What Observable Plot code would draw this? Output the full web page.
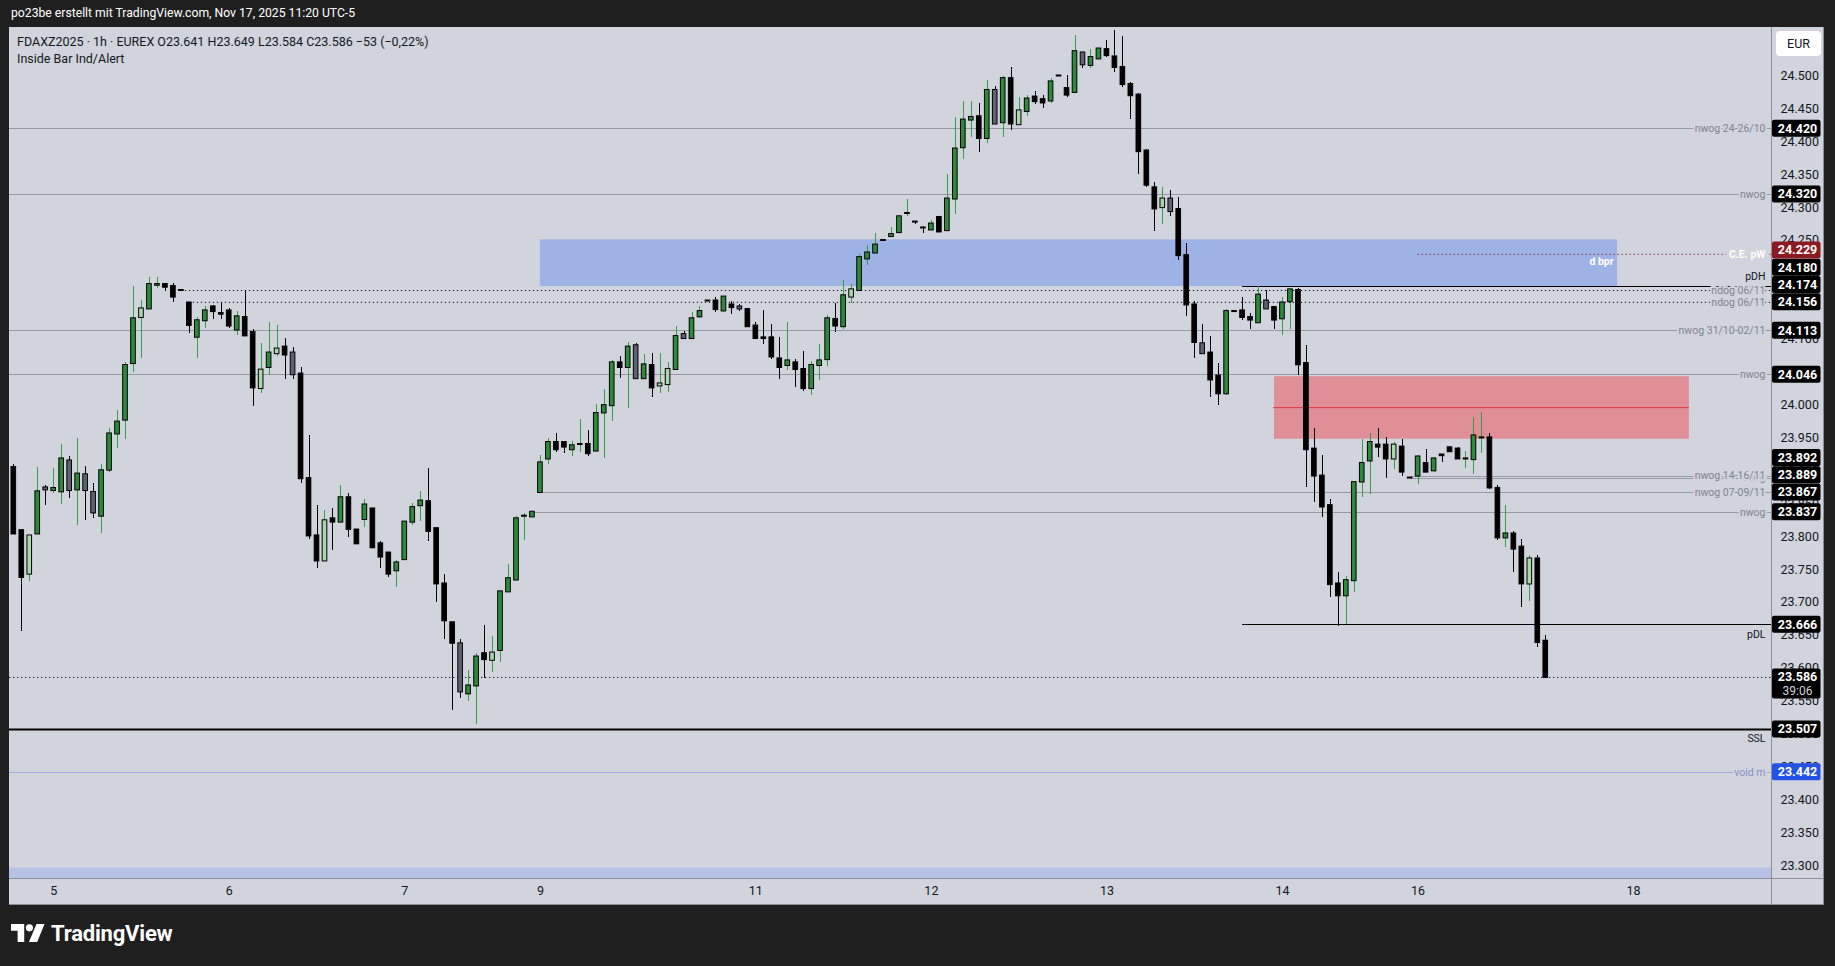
<!DOCTYPE html>
<html><head><meta charset="utf-8">
<script src="https://cdn.jsdelivr.net/npm/d3@7"></script>
<script src="https://cdn.jsdelivr.net/npm/@observablehq/plot@0.6"></script>
<style>
html,body{margin:0;padding:0;background:#1f1f1f;}
body{width:1835px;height:966px;position:relative;overflow:hidden;font-family:Roboto,"Liberation Sans",sans-serif;}
#hdr{position:absolute;left:11px;top:6px;color:#ffffff;font-size:12.2px;white-space:pre;}
#pane{position:absolute;left:9px;top:27px;width:1815px;height:878px;background:#d1d4dc;}
#legend{position:absolute;left:17px;top:33px;color:#131722;font-size:12.5px;line-height:17px;white-space:pre;z-index:3;}
#eur{position:absolute;left:1776px;top:31px;width:45px;height:25px;background:#ffffff;border-radius:4px;color:#131722;font-size:12.5px;line-height:25px;text-align:center;z-index:3;}
#foot{position:absolute;left:11px;top:921px;color:#ffffff;font-size:22px;font-weight:bold;display:flex;align-items:center;gap:6px;letter-spacing:-0.2px;}
</style></head><body>
<div id="hdr">po23be erstellt mit TradingView.com, Nov 17, 2025 11:20 UTC-5</div>
<div id="pane"></div>
<div id="legend">FDAXZ2025 · 1h · EUREX O23.641 H23.649 L23.584 C23.586 −53 (−0,22%)
Inside Bar Ind/Alert</div>
<div id="eur">EUR</div>
<div id="foot"><svg width="34" height="25" viewBox="0 0 36 26"><path d="M14 22H7V10H0V3h14z" fill="#fff"/><circle cx="19.5" cy="7" r="3.8" fill="#fff"/><path d="M27 3h8.5l-7.8 19H19z" fill="#fff"/></svg><span>TradingView</span></div>
<script>
// ---- candle data (hourly bars, index 0 = first visible bar) ----
const open = [
23905,23809,23743,23804,23874,23870,23868,23915,23871,23894,
23867,23831,23901,23956,23977,24063,24133,24146,24182,24183,
24180,24174,24155,24103,24128,24149,24139,24143,24114,24133,
24110,24025,24057,24078,24088,24079,24047,23888,23801,23763,
23827,23822,23859,23810,23826,23842,23789,23775,23748,23765,
23822,23847,23853,23812,23728,23669,23637,23561,23573,23622,
23612,23627,23716,23734,23831,23830,23867,23918,23943,23943,
23932,23940,23940,23930,23988,23999,24064,24057,24090,24040,
24060,24029,24031,24054,24107,24101,24134,24158,24158,24143,
24152,24149,24145,24120,24102,24102,24070,24060,24064,24054,
24025,24060,24069,24130,24119,24164,24174,24222,24231,24250,
24256,24262,24291,24278,24269,24266,24285,24265,24313,24391,
24433,24438,24405,24478,24429,24496,24426,24446,24468,24464,
24462,24500,24481,24475,24535,24516,24526,24540,24529,24513,
24487,24471,24386,24330,24300,24313,24297,24227,24152,24093,
24079,24044,24017,24142,24143,24133,24125,24158,24148,24131,
24157,24174,24063,23933,23892,23847,23728,23710,23733,23883,
23915,23939,23939,23918,23936,23889,23892,23911,23900,23924,
23935,23933,23918,23917,23950,23950,23873,23798,23804,23784,
23728,23766,23641];
const high = [
23910,23809,23801,23905,23877,23904,23940,23921,23949,23906,
23881,23910,23965,23992,24064,24180,24159,24194,24194,24185,
24184,24174,24155,24133,24150,24151,24154,24146,24142,24174,
24114,24094,24125,24121,24101,24088,24057,23953,23847,23839,
23843,23878,23865,23810,23856,23842,23792,23775,23764,23822,
23850,23869,23903,23812,23742,23669,23644,23597,23623,23665,
23648,23716,23758,23831,23835,23837,23924,23949,23956,23943,
23945,23978,23962,24000,24023,24068,24073,24095,24093,24076,
24079,24078,24064,24120,24111,24140,24149,24158,24164,24164,
24157,24152,24146,24126,24143,24123,24102,24125,24069,24081,
24066,24092,24136,24155,24189,24183,24228,24243,24260,24250,
24269,24286,24313,24278,24272,24281,24287,24351,24437,24461,
24461,24458,24493,24484,24499,24513,24468,24470,24476,24471,
24496,24500,24500,24561,24535,24540,24541,24554,24569,24560,
24490,24473,24388,24338,24330,24326,24316,24245,24158,24122,
24104,24063,24145,24142,24163,24139,24180,24174,24149,24164,
24175,24177,24091,23965,23924,23857,23745,23739,23882,23947,
23956,23964,23950,23943,23947,23889,23924,23933,23920,23924,
23936,23936,23929,23981,23988,23956,23877,23847,23807,23795,
23771,23772,23649];
const low = [
23804,23656,23732,23804,23848,23866,23849,23858,23817,23825,
23827,23804,23898,23934,23948,24050,24071,24146,24177,24172,
24156,24174,24108,24071,24117,24130,24130,24117,24106,24105,
23998,24018,24045,24074,24038,24039,23881,23796,23752,23763,
23779,23822,23799,23789,23814,23783,23751,23738,23722,23765,
23817,23823,23793,23700,23643,23536,23554,23549,23515,23584,
23594,23609,23716,23734,23794,23830,23867,23909,23928,23927,
23922,23928,23921,23930,23919,23975,24041,23995,24040,24040,
24011,24017,24019,24054,24099,24099,24131,24158,24140,24140,
24137,24142,24119,24101,24092,24069,24038,24052,24026,24020,
24014,24037,24058,24110,24114,24155,24174,24212,24231,24250,
24254,24262,24286,24275,24260,24266,24263,24265,24289,24373,
24406,24384,24398,24427,24407,24417,24426,24439,24456,24450,
24458,24500,24467,24475,24511,24511,24526,24528,24505,24482,
24434,24351,24331,24263,24274,24286,24219,24134,24070,24078,
24011,23999,24014,24142,24128,24114,24125,24146,24114,24105,
24115,24045,23874,23852,23829,23707,23664,23666,23715,23860,
23864,23920,23888,23902,23892,23889,23879,23898,23897,23912,
23929,23918,23903,23894,23926,23871,23794,23783,23745,23692,
23701,23631,23584];
const close = [
23804,23738,23801,23868,23871,23873,23918,23870,23895,23870,
23836,23900,23956,23974,24060,24131,24146,24183,24183,24179,
24164,24174,24121,24128,24143,24142,24138,24120,24134,24105,
24026,24053,24079,24085,24076,24046,23888,23801,23763,23824,
23822,23859,23811,23789,23848,23783,23769,23743,23760,23822,
23844,23854,23808,23728,23672,23638,23564,23573,23617,23613,
23623,23716,23736,23827,23831,23837,23912,23943,23932,23936,
23938,23940,23926,23987,23999,24064,24057,24088,24040,24061,
24026,24032,24054,24104,24101,24131,24142,24158,24145,24164,
24148,24146,24119,24101,24101,24073,24057,24067,24054,24025,
24060,24067,24131,24120,24166,24175,24224,24231,24243,24250,
24259,24286,24291,24278,24269,24275,24263,24313,24389,24433,
24437,24405,24478,24427,24496,24427,24447,24465,24461,24459,
24491,24500,24471,24537,24517,24528,24541,24531,24513,24487,
24470,24385,24334,24298,24313,24294,24227,24152,24095,24078,
24038,24017,24142,24142,24133,24129,24167,24146,24129,24155,
24175,24061,23932,23892,23845,23727,23710,23733,23882,23911,
23943,23936,23918,23939,23898,23889,23921,23898,23918,23923,
23929,23918,23918,23953,23950,23874,23798,23804,23781,23728,
23766,23639,23586];
// g = up, b = down, lg = inside bar up, gr = inside bar down
const kind = [
"b","b","lg","g","gr","g","g","gr","g","gr",
"gr","g","g","g","g","g","lg","g","g","b",
"b","b","b","g","g","b","b","b","g","b",
"b","lg","g","lg","b","gr","b","b","b","lg",
"b","g","b","b","g","b","b","b","g","g",
"g","g","b","b","b","b","gr","g","g","b",
"lg","g","g","g","g","g","g","g","b","b",
"g","g","b","g","g","g","b","g","gr","g",
"b","lg","lg","g","gr","g","g","b","b","g",
"b","gr","b","b","b","b","b","g","b","b",
"g","g","g","b","g","lg","g","g","g","b",
"g","g","g","b","b","g","b","g","g","g",
"g","b","g","gr","g","b","lg","g","b","b",
"g","b","b","g","gr","g","g","b","b","b",
"b","b","b","b","lg","gr","b","b","b","gr",
"b","b","g","b","b","b","g","gr","b","g",
"g","b","b","b","b","b","b","g","g","g",
"g","b","b","lg","b","b","g","b","g","b",
"b","b","g","g","g","b","b","g","b","b",
"lg","b","b"];

// ---- time axis: bar index of each day label ----
const dayTickBar = [5, 27, 49, 66, 93, 115, 137, 159, 176, 203];
const dayTickLabel = ["5", "6", "7", "9", "11", "12", "13", "14", "16", "18"];
// ---- price axis ticks ----
const priceTicks = [23300,23350,23400,23450,23500,23550,23600,23650,23700,23750,23800,23850,23900,23950,
  24000,24050,24100,24150,24200,24250,24300,24350,24400,24450,24500];

// ---- grey level lines (value, label, first bar; null = from left edge) ----
const levelValue = [24420, 24320, 24113, 24046, 23889, 23892, 23867, 23837];
const levelLabel = ["nwog 24-26/10", "nwog", "nwog 31/10-02/11", "nwog", "nwog", "nwog 14-16/11", "nwog 07-09/11", "nwog"];
const levelStart = [null, null, null, null, 175, 175, 66, 65];
// ---- ndog dotted lines ----
const ndogValue = [24174, 24156];
const ndogStart = [21, 22];
const ndogLabel = ["ndog 06/11", "ndog 06/11"];
// ---- previous day high / low ----
const pdhValue = 24180, pdlValue = 23666, pdStart = 154;
// ---- C.E. pW ----
const cePwValue = 24229, cePwStart = 176;
// ---- SSL, void m, current price ----
const sslValue = 23507;
const voidValue = 23442;
const lastPrice = 23586;
const countdown = "39:06";
// ---- zones ----
const bprBars = [66, 201], bprRange = [24180, 24251];
const fvgBars = [158, 210], fvgRange = [23948, 24043], fvgMid = 23996;
const voidBandTop = 23296;
// ---- price tags on the axis ----
const tagValue = [24420, 24320, 24229, 24180, 24174, 24156, 24113, 24046, 23892, 23889, 23867, 23837, 23666, 23586, 23507, 23442];
const tagBg = ["#000","#000","#8b1b22","#000","#000","#000","#000","#000","#000","#000","#000","#000","#000","#000","#000","#2453e6"];

// ---- build ----
const paneBg = "#d1d4dc";
const xDomain = [-0.539, 220.29];
const yDomain = [23280.4, 24573.7];
const xMin = xDomain[0], xMax = xDomain[1];
const fmt = v => (v / 1000).toFixed(3);

const candles = open.map((o, i) => ({k: i, o, h: high[i], l: low[i], c: close[i], kind: kind[i]}));
const bodyFill = {g: "#2e8a3b", lg: "#a7d8a9", gr: "#5e6170", b: "#000000"};
const wickCol = {g: "#35a043", lg: "#35a043", gr: "#000000", b: "#000000"};

const levels = levelValue.map((v, i) => ({v, label: levelLabel[i], s: levelStart[i] == null ? xMin : levelStart[i], e: xMax}));
const ndogs = ndogValue.map((v, i) => ({v, label: ndogLabel[i], s: ndogStart[i], e: xMax}));
const blackSolid = [{v: pdhValue, s: pdStart, e: xMax}, {v: pdlValue, s: pdStart, e: xMax}];
const labelStyle = {frameAnchor: "right", textAnchor: "end", dx: -6, fontSize: 10.5};

const plot = Plot.plot({
  width: 1815, height: 878,
  marginLeft: 0, marginRight: 53, marginTop: 0, marginBottom: 27,
  style: {background: "transparent", fontFamily: "Roboto, sans-serif", fontSize: "12.5px", color: "#131722", overflow: "visible"},
  color: {type: "identity"},
  x: {domain: xDomain, ticks: dayTickBar, tickFormat: d => dayTickLabel[dayTickBar.indexOf(d)], tickSize: 0, tickPadding: 8, label: null},
  y: {domain: yDomain, axis: "right", ticks: priceTicks, tickFormat: fmt, tickSize: 0, tickPadding: 9, label: null},
  marks: [
    // bottom void band
    Plot.rect([{x1: xMin, x2: xMax, y1: yDomain[0], y2: voidBandTop}], {x1: "x1", x2: "x2", y1: "y1", y2: "y2", fill: "#b5c1e5"}),
    // zones
    Plot.rect([{x1: bprBars[0], x2: bprBars[1], y1: bprRange[0], y2: bprRange[1]}], {x1: "x1", x2: "x2", y1: "y1", y2: "y2", fill: "#9fb2e6"}),
    Plot.rect([{x1: fvgBars[0], x2: fvgBars[1], y1: fvgRange[0], y2: fvgRange[1]}], {x1: "x1", x2: "x2", y1: "y1", y2: "y2", fill: "#e08f99"}),
    Plot.ruleY([{v: fvgMid, s: fvgBars[0] - 0.1, e: fvgBars[1]}], {y: "v", x1: "s", x2: "e", stroke: "#e03442", strokeWidth: 1}),
    // grey levels
    Plot.ruleY(levels, {y: "v", x1: "s", x2: "e", stroke: "#979aa3", strokeWidth: 1, shapeRendering: "crispEdges"}),
    Plot.ruleY([{v: voidValue}], {y: "v", x1: xMin, x2: xMax, stroke: "#9fadde", strokeWidth: 1, shapeRendering: "crispEdges"}),
    // dotted lines
    Plot.ruleY(ndogs, {y: "v", x1: "s", x2: "e", stroke: "#111", strokeWidth: 1, strokeDasharray: "1.3,2.7"}),
    Plot.ruleY([{v: lastPrice}], {y: "v", x1: xMin, x2: xMax, stroke: "#111", strokeWidth: 1, strokeDasharray: "1.3,2.7"}),
    Plot.ruleY([{v: cePwValue, s: cePwStart}], {y: "v", x1: "s", x2: xMax, stroke: "#8e1f26", strokeWidth: 1, strokeDasharray: "1.3,2.7"}),
    // solid black lines
    Plot.ruleY(blackSolid, {y: "v", x1: "s", x2: "e", stroke: "#000", strokeWidth: 1, shapeRendering: "crispEdges"}),
    Plot.ruleY([{v: sslValue}], {y: "v", x1: xMin, x2: xMax, stroke: "#000", strokeWidth: 2}),
    // candles
    Plot.ruleX(candles, {x: "k", y1: "l", y2: "h", stroke: d => wickCol[d.kind], strokeWidth: 1, shapeRendering: "crispEdges"}),
    Plot.rect(candles, {x1: d => d.k - 0.29, x2: d => d.k + 0.29, y1: d => Math.min(d.o, d.c), y2: d => Math.max(d.o, d.c),
      fill: d => bodyFill[d.kind], stroke: "#000", strokeWidth: 1, insetTop: -0.5, insetBottom: -0.5}),
    // labels
    Plot.text(levels, {y: "v", text: "label", ...labelStyle, fill: "#80838d", stroke: paneBg, strokeWidth: 4}),
    Plot.text(ndogs, {y: "v", text: "label", ...labelStyle, fill: "#80838d", stroke: paneBg, strokeWidth: 4}),
    Plot.text([{v: voidValue, t: "void m"}], {y: "v", text: "t", ...labelStyle, fill: "#8592c4", stroke: paneBg, strokeWidth: 4}),
    Plot.text([{v: cePwValue, t: "C.E. pW"}], {y: "v", text: "t", ...labelStyle, fill: "#ffffff", stroke: paneBg, strokeWidth: 7, fontWeight: "bold"}),
    Plot.text([{v: pdhValue, t: "pDH"}], {y: "v", text: "t", ...labelStyle, dy: -10, fill: "#131722"}),
    Plot.text([{v: pdlValue, t: "pDL"}], {y: "v", text: "t", ...labelStyle, dy: 10, fill: "#131722"}),
    Plot.text([{v: sslValue, t: "SSL"}], {y: "v", text: "t", ...labelStyle, dy: 9, fill: "#131722"}),
    Plot.text([{x: bprBars[1], y: (bprRange[0] + bprRange[1]) / 2, t: "d bpr"}], {x: "x", y: "y", text: "t", textAnchor: "end", dx: -4, dy: -2, fill: "#ffffff", fontSize: 10.5, fontWeight: "bold"})
  ]
});
document.getElementById("pane").appendChild(plot);

// ---- axis tags (positions from the plot's own scales) ----
const ysc = plot.scale("y"), xsc = plot.scale("x");
const yPix = ysc.apply ? (v => ysc.apply(v)) : d3.scaleLinear(ysc.domain, ysc.range);
const xRight = Math.max(...xsc.range);
const yBottom = Math.max(...ysc.range);
const svg = d3.select(plot);
const tags = tagValue.map((v, i) => ({v, bg: tagBg[i], sub: v === lastPrice ? countdown : null})).sort((a, b) => a.v - b.v);
let prevTop = Infinity;
for (const t of tags) {
  let y = yPix(t.v);
  const up = 8.5, down = t.sub ? 21.5 : 8.5;
  if (y + down > prevTop - 0.3) y = prevTop - 0.3 - down;
  t.y = y; t.up = up; t.down = down; prevTop = y - up;
}
const sep = svg.append("g");
sep.append("line").attr("x1", xRight + 0.5).attr("x2", xRight + 0.5).attr("y1", 0).attr("y2", 878).attr("stroke", "#8c8f98");
sep.append("line").attr("x1", 0).attr("x2", 1815).attr("y1", yBottom + 0.5).attr("y2", yBottom + 0.5).attr("stroke", "#8c8f98");
sep.append("line").attr("x1", 0).attr("x2", 1815).attr("y1", 877.5).attr("y2", 877.5).attr("stroke", "#8c8f98");
sep.append("line").attr("x1", 1814.5).attr("x2", 1814.5).attr("y1", 0).attr("y2", 878).attr("stroke", "#8c8f98");
const tg = svg.append("g").attr("font-family", "Roboto, sans-serif");
for (const t of tags) {
  tg.append("rect").attr("x", xRight + 1).attr("y", t.y - t.up).attr("width", 48.5).attr("height", t.up + t.down).attr("rx", 2).attr("fill", t.bg);
  tg.append("text").attr("x", xRight + 26.5).attr("y", t.y).attr("dy", "0.35em").attr("text-anchor", "middle")
    .attr("fill", "#fff").attr("font-size", 12.5).attr("font-weight", "bold").text(fmt(t.v));
  if (t.sub) tg.append("text").attr("x", xRight + 26.5).attr("y", t.y + 14).attr("dy", "0.35em").attr("text-anchor", "middle")
    .attr("fill", "#cfd2da").attr("font-size", 12).text(t.sub);
}
</script>
</body></html>
